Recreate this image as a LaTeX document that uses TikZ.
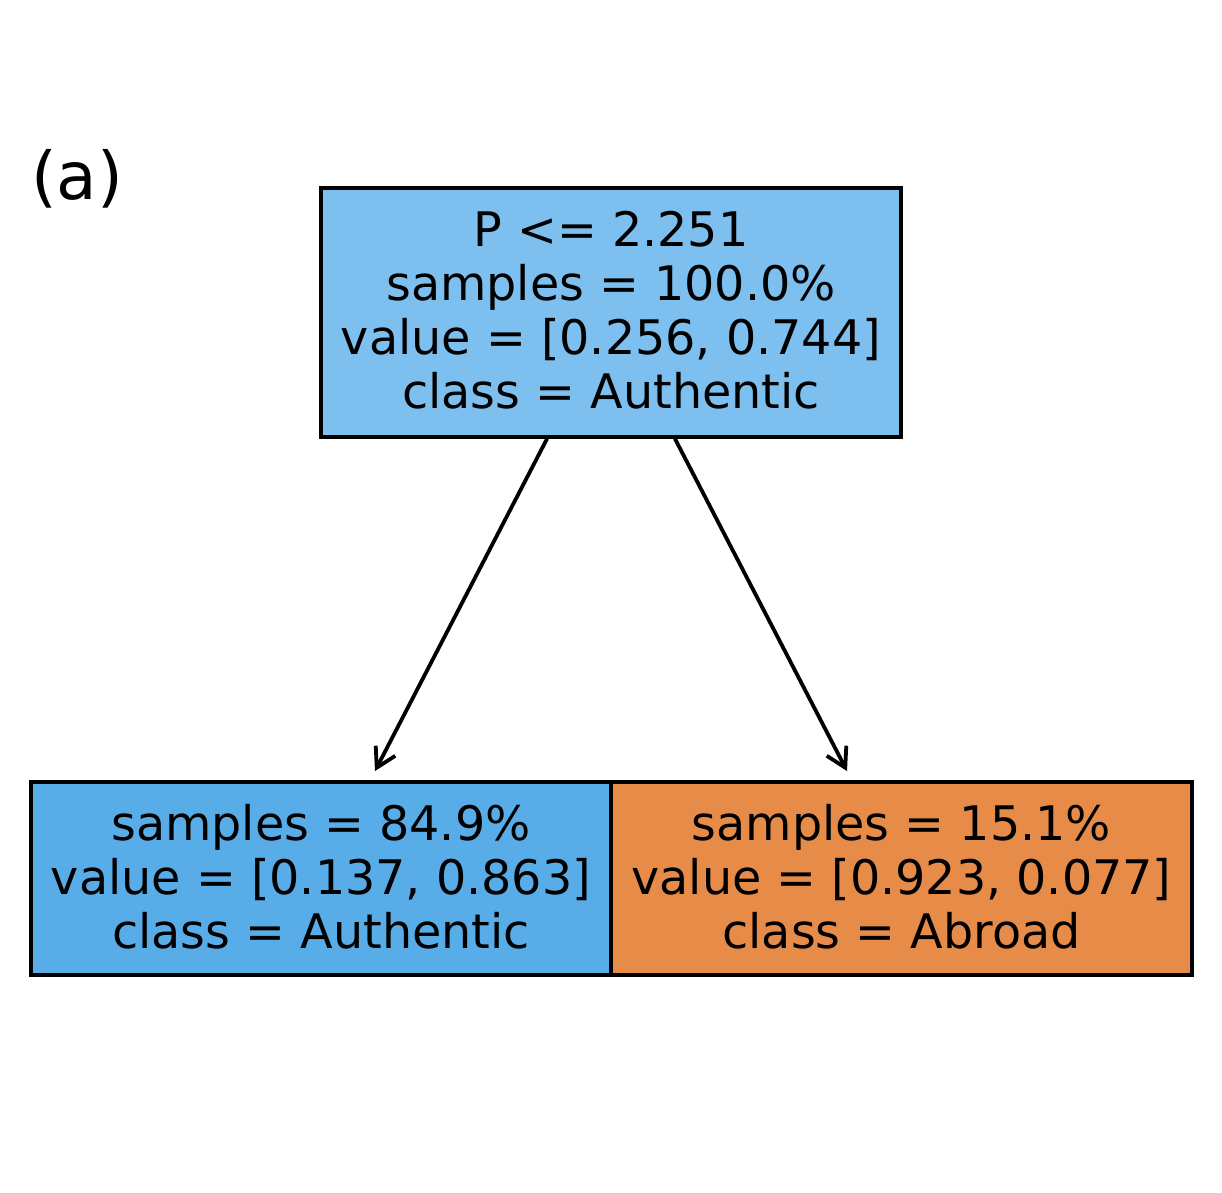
\documentclass[tikz,border=0pt]{standalone}
\usepackage{fontspec}
\setmainfont{DejaVu Sans}
\usetikzlibrary{arrows.meta}
\definecolor{rootblue}{HTML}{7DBFEE}
\definecolor{leafblue}{HTML}{58ADE9}
\definecolor{leaforange}{HTML}{E78B49}
\tikzset{
  treebox/.style={draw=black, line width=3.6pt, inner sep=0pt, align=center,
    font=\fontsize{47.6}{54}\selectfont},
  edge/.style={line width=3.8pt, line cap=round, line join=round,
    -{Straight Barb[length=19pt, width=22pt, line width=3.8pt]}},
}
\newcommand{\dropby}[1]{\rule[-#1]{0pt}{#1}}
\begin{document}
\begin{tikzpicture}[x=1pt, y=-1pt]
\useasboundingbox (0,0) rectangle (1222,1192);
\node (tag) [anchor=base west, inner sep=0pt, font=\fontsize{66}{70}\selectfont] at (31,199.6) {(a)};
\node (root) [treebox, fill=rootblue, minimum width=580pt, minimum height=249pt] at (611,312.5)
  {P <= 2.251\\samples = 100.0\%\\value = [0.256, 0.744]\\class = Authentic\dropby{6pt}};
\node (left) [treebox, fill=leafblue, minimum width=580pt, minimum height=193pt] at (321,878.5)
  {samples = 84.9\%\\value = [0.137, 0.863]\\class = Authentic\dropby{4pt}};
\node (right) [treebox, fill=leaforange, minimum width=581pt, minimum height=193pt] at (901.5,878.5)
  {samples = 15.1\%\\value = [0.923, 0.077]\\class = Abroad\dropby{4pt}};
\coordinate (lend) at (375,771);
\coordinate (rend) at (847,771);
\draw[edge] ([xshift=-64pt]root.south) -- (lend);
\draw[edge] ([xshift=64pt]root.south) -- (rend);
\end{tikzpicture}
\end{document}
